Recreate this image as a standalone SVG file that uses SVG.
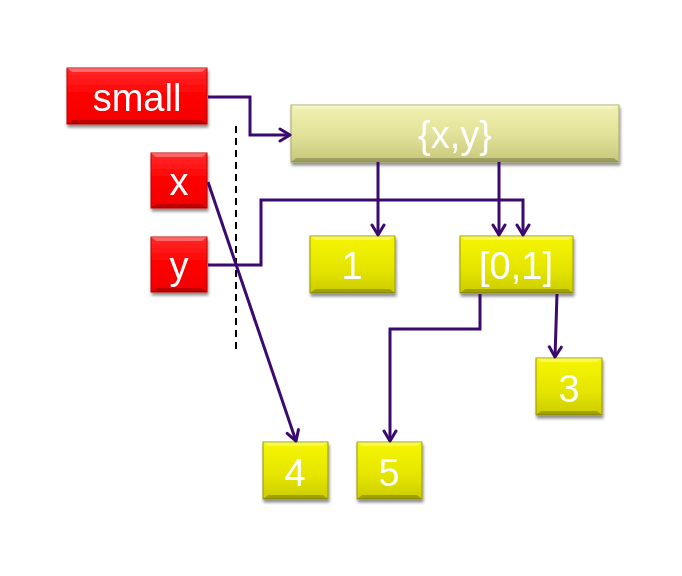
<svg xmlns="http://www.w3.org/2000/svg" width="682" height="576" viewBox="0 0 682 576">
<defs>
<linearGradient id="gRed" x1="0" y1="0" x2="0" y2="1">
<stop offset="0" stop-color="#ff2a2a"/><stop offset="0.5" stop-color="#ff0000"/><stop offset="1" stop-color="#f20000"/>
</linearGradient>
<linearGradient id="gYel" x1="0" y1="0" x2="0" y2="1">
<stop offset="0" stop-color="#f6f600"/><stop offset="0.6" stop-color="#e4e400"/><stop offset="1" stop-color="#cccc00"/>
</linearGradient>
<linearGradient id="gKhaki" x1="0" y1="0" x2="0" y2="1">
<stop offset="0" stop-color="#f2f2b0"/><stop offset="0.5" stop-color="#e2e29a"/><stop offset="1" stop-color="#c8c87c"/>
</linearGradient>
<filter id="sh" x="-10%" y="-10%" width="130%" height="140%">
<feGaussianBlur in="SourceAlpha" stdDeviation="1.5"/>
<feOffset dx="1" dy="3" result="b"/>
<feComponentTransfer><feFuncA type="linear" slope="0.45"/></feComponentTransfer>
<feMerge><feMergeNode/><feMergeNode in="SourceGraphic"/></feMerge>
</filter>
<marker id="arr" viewBox="0 0 16 16" refX="13" refY="8" markerWidth="16" markerHeight="16" markerUnits="userSpaceOnUse" orient="auto">
<path d="M3,2 L13,8 L3,14" fill="none" stroke="#3a0a6e" stroke-width="3" stroke-linecap="round" stroke-linejoin="round"/>
</marker>
</defs>
<style>
.box{filter:url(#sh)}
.red{fill:url(#gRed);stroke:#c00000;stroke-width:1}
.yel{fill:url(#gYel);stroke:#9a9a00;stroke-width:1}
.kh{fill:url(#gKhaki);stroke:#a8a870;stroke-width:1}
.hi{fill:#ffffff;opacity:0.3}
.lo{fill:#000000;opacity:0.22}
.t{font-family:"Liberation Sans",Arial,sans-serif;font-size:38px;fill:#ffffff;text-anchor:middle}
.c{fill:none;stroke:#3a0a6e;stroke-width:3;stroke-linejoin:miter}
.dash{fill:none;stroke:#000000;stroke-width:2;stroke-dasharray:7,5}
</style>

<g id="small" class="box">
<rect class="red" x="67" y="68" width="140" height="56"/>
<path class="hi" d="M67,68 H207 L202,72 H72 Z"/>
<path class="lo" d="M67,124 H207 L202,120 H72 Z"/>
<text class="t" x="137" y="111">small</text>
</g>
<g id="x" class="box">
<rect class="red" x="151" y="153" width="56" height="55"/>
<path class="hi" d="M151,153 H207 L202,157 H156 Z"/>
<path class="lo" d="M151,208 H207 L202,204 H156 Z"/>
<text class="t" x="179" y="195">x</text>
</g>
<g id="y" class="box">
<rect class="red" x="151" y="237" width="56" height="55"/>
<path class="hi" d="M151,237 H207 L202,241 H156 Z"/>
<path class="lo" d="M151,292 H207 L202,288 H156 Z"/>
<text class="t" x="179" y="279">y</text>
</g>
<g id="xy" class="box">
<rect class="kh" x="291" y="105" width="328" height="57"/>
<path class="hi" d="M291,105 H619 L614,109 H296 Z"/>
<path class="lo" d="M291,162 H619 L614,158 H296 Z"/>
<text class="t" x="455" y="148">{x,y}</text>
</g>
<g id="n1" class="box">
<rect class="yel" x="310" y="236" width="85" height="57"/>
<path class="hi" d="M310,236 H395 L390,240 H315 Z"/>
<path class="lo" d="M310,293 H395 L390,289 H315 Z"/>
<text class="t" x="352" y="279">1</text>
</g>
<g id="n01" class="box">
<rect class="yel" x="460" y="236" width="113" height="57"/>
<path class="hi" d="M460,236 H573 L568,240 H465 Z"/>
<path class="lo" d="M460,293 H573 L568,289 H465 Z"/>
<text class="t" x="516" y="279">[0,1]</text>
</g>
<g id="n3" class="box">
<rect class="yel" x="536" y="358" width="66" height="57"/>
<path class="hi" d="M536,358 H602 L597,362 H541 Z"/>
<path class="lo" d="M536,415 H602 L597,411 H541 Z"/>
<text class="t" x="569" y="402">3</text>
</g>
<g id="n4" class="box">
<rect class="yel" x="263" y="442" width="65" height="57"/>
<path class="hi" d="M263,442 H328 L323,446 H268 Z"/>
<path class="lo" d="M263,499 H328 L323,495 H268 Z"/>
<text class="t" x="295" y="486">4</text>
</g>
<g id="n5" class="box">
<rect class="yel" x="357" y="442" width="65" height="57"/>
<path class="hi" d="M357,442 H422 L417,446 H362 Z"/>
<path class="lo" d="M357,499 H422 L417,495 H362 Z"/>
<text class="t" x="389" y="486">5</text>
</g>

<g id="connectors">
<line class="dash" x1="236" y1="126" x2="236" y2="352"/>
<path class="c" d="M208,97 H250 V135 H290" marker-end="url(#arr)"/>
<path class="c" d="M208,182 L296,441" marker-end="url(#arr)"/>
<path class="c" d="M208,265 H261 V200 H523 V235" marker-end="url(#arr)"/>
<path class="c" d="M378,162 V235" marker-end="url(#arr)"/>
<path class="c" d="M499,162 V235" marker-end="url(#arr)"/>
<path class="c" d="M480,294 V329 H390 V441" marker-end="url(#arr)"/>
<path class="c" d="M557,294 L555,357" marker-end="url(#arr)"/>
</g>
</svg>
